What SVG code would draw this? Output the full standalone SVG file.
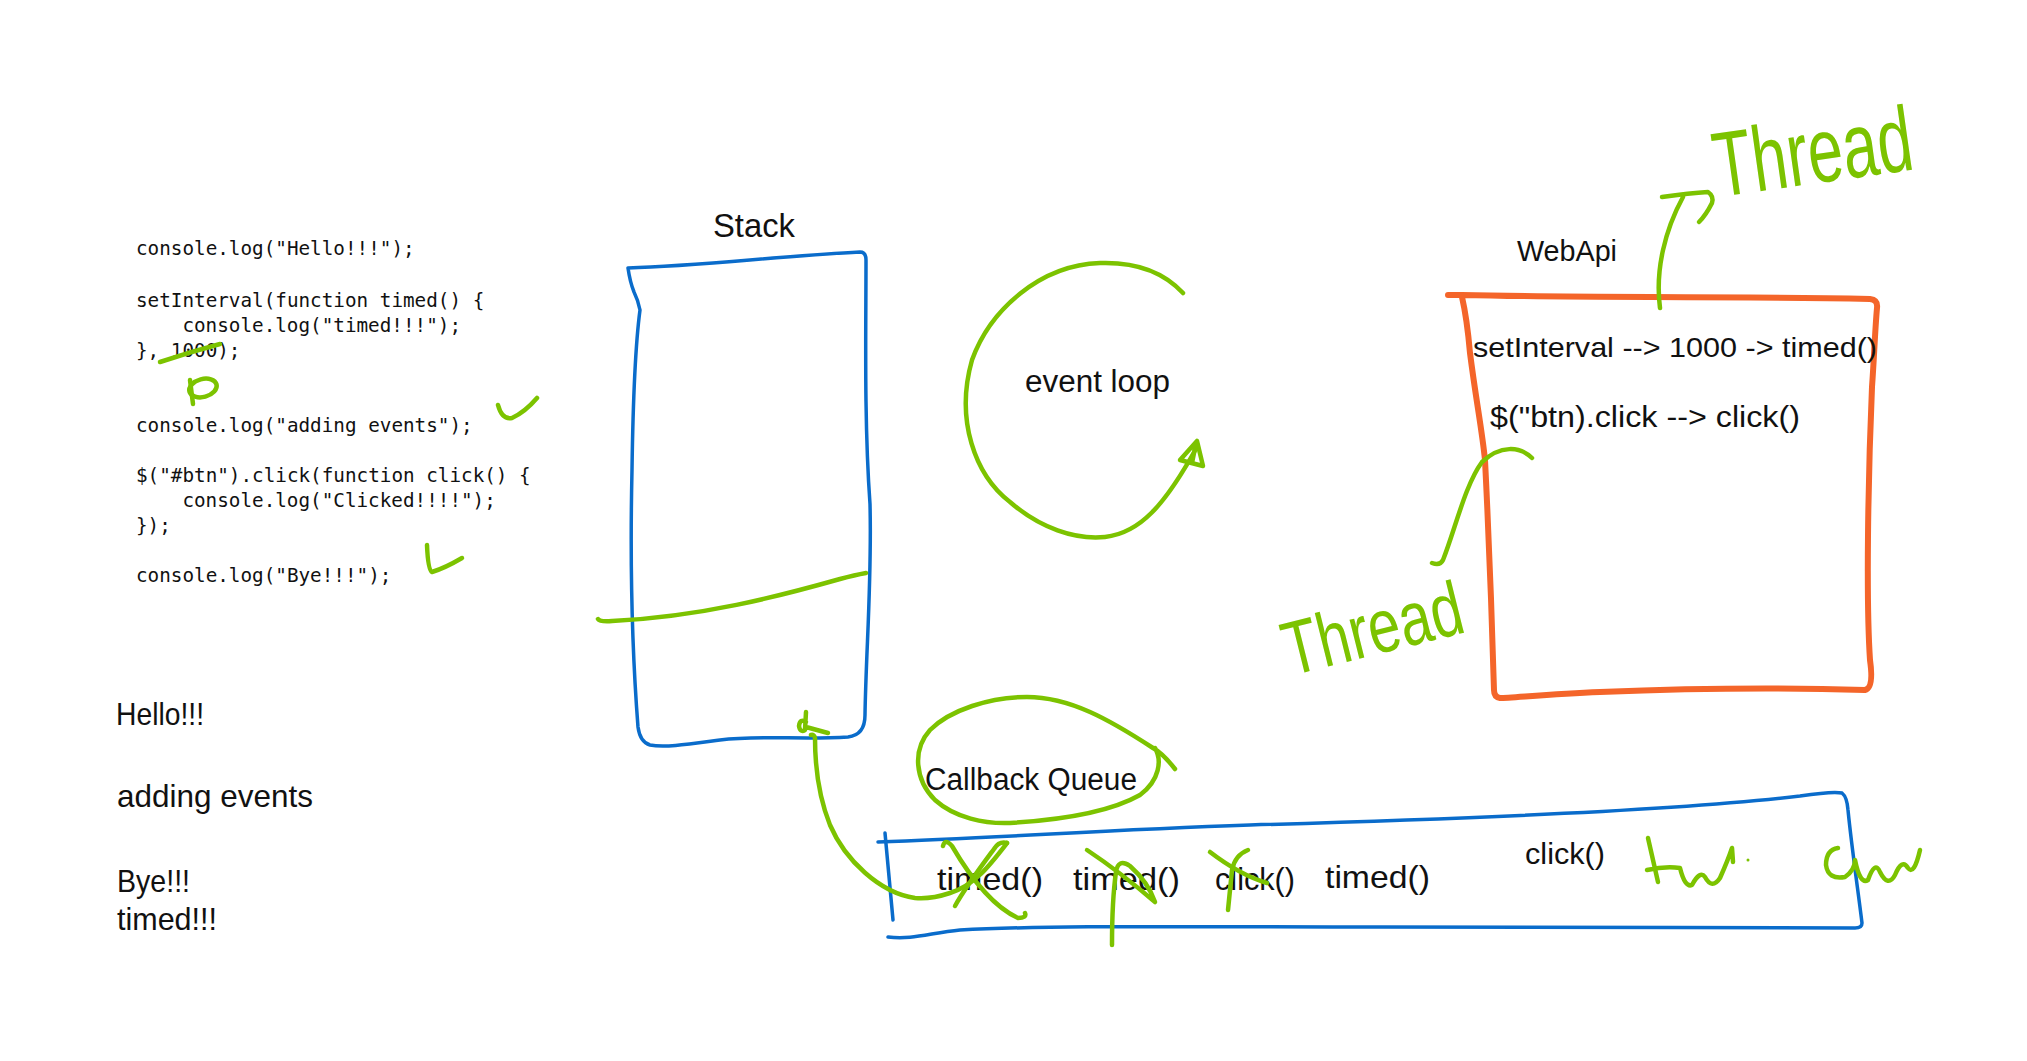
<svg xmlns="http://www.w3.org/2000/svg" width="2027" height="1061" viewBox="0 0 2027 1061">
<style>
.code{font-family:"DejaVu Sans Mono","Liberation Mono",monospace;font-size:19.3px;fill:#111}
.hand{font-family:"Liberation Sans",Arial,sans-serif;fill:#111}
.blue{fill:none;stroke:#0a6ccb;stroke-width:3.5;stroke-linecap:round;stroke-linejoin:round}
.orange{fill:none;stroke:#f4652a;stroke-width:6;stroke-linecap:round;stroke-linejoin:round}
.green{fill:none;stroke:#7cc300;stroke-width:4.5;stroke-linecap:round;stroke-linejoin:round}
.gtext{font-family:"Liberation Sans",Arial,sans-serif;fill:#7cc300}
</style>
<rect width="2027" height="1061" fill="#fff"/>

<g id="code">
<text class="code" x="136" y="255">console.log("Hello!!!");</text>
<text class="code" x="136" y="307">setInterval(function timed() {</text>
<text class="code" x="182.4" y="332">console.log("timed!!!");</text>
<text class="code" x="136" y="357">}, 1000);</text>
<text class="code" x="136" y="432">console.log("adding events");</text>
<text class="code" x="136" y="482">$("#btn").click(function click() {</text>
<text class="code" x="182.4" y="507">console.log("Clicked!!!!");</text>
<text class="code" x="136" y="532">});</text>
<text class="code" x="136" y="582">console.log("Bye!!!");</text>
</g>

<g id="code-marks">
<path class="green" d="M160,362 Q190,352 220,344"/>
<ellipse class="green" cx="203" cy="388" rx="14" ry="9" stroke-width="5" transform="rotate(-15 203 388)"/>
<path class="green" d="M190,380 L193,404"/>
<path class="green" d="M498,405 Q502,420 512,418 Q525,412 537,398"/>
<path class="green" d="M427,545 Q428,570 432,572 Q445,568 462,558"/>
</g>

<g id="console-output">
<text class="hand" x="116" y="725" font-size="32" textLength="88" lengthAdjust="spacingAndGlyphs">Hello!!!</text>
<text class="hand" x="117" y="807" font-size="32" textLength="196" lengthAdjust="spacingAndGlyphs">adding events</text>
<text class="hand" x="117" y="892" font-size="32" textLength="73" lengthAdjust="spacingAndGlyphs">Bye!!!</text>
<text class="hand" x="117" y="930" font-size="32" textLength="100" lengthAdjust="spacingAndGlyphs">timed!!!</text>
</g>

<g id="stack">
<text class="hand" x="713" y="237" font-size="33" textLength="82" lengthAdjust="spacingAndGlyphs">Stack</text>
<path class="blue" d="M628,268 C700,266 780,256 860,252 Q866,252 866,260 C866,330 864,420 870,504 C872,580 866,650 865,715 Q865,735 848,737 C800,740 760,735 720,740 C690,744 665,748 650,745 Q640,742 638,727 C632,650 630,560 632,470 C633,400 636,340 640,310 Q638,300 634,292 Q630,282 628,268"/>
<path class="green" d="M598,619 Q600,622 612,621 C700,617 780,596 840,579 Q855,575 866,573"/>
</g>

<g id="event-loop">
<text class="hand" x="1025" y="392" font-size="31" textLength="145" lengthAdjust="spacingAndGlyphs">event loop</text>
<path class="green" d="M1183,293 C1160,268 1130,262 1100,263 C1040,265 990,310 972,360 C955,420 975,475 1010,502 C1040,528 1075,540 1105,537 C1140,533 1165,505 1197,447"/>
<path class="green" d="M1180,460 L1197,441 L1203,466 Z M1196,443 L1192,463" stroke-width="5" fill="#7cc300" fill-opacity="0.35"/>
</g>

<g id="webapi">
<text class="hand" x="1517" y="261" font-size="30" textLength="100" lengthAdjust="spacingAndGlyphs">WebApi</text>
<path class="orange" d="M1448,295 L1462,295 C1580,298 1700,296 1870,299 Q1878,300 1877,308 C1875,330 1874,360 1872,387 C1868,480 1866,600 1870,660 Q1874,688 1865,690 C1800,688 1700,688 1600,692 C1550,694 1510,698 1500,698 Q1494,697 1494,690 C1492,620 1488,520 1485,460 C1482,430 1476,400 1470,353 C1468,330 1465,310 1462,297"/>
<text class="hand" x="1473" y="357" font-size="28" textLength="404" lengthAdjust="spacingAndGlyphs">setInterval --&gt; 1000 -&gt; timed()</text>
<text class="hand" x="1490" y="427" font-size="30" textLength="310" lengthAdjust="spacingAndGlyphs">$("btn).click --&gt; click()</text>
</g>

<g id="threads">
<path class="green" d="M1660,308 C1655,270 1665,230 1683,197" stroke-width="4"/>
<path class="green" d="M1662,197 Q1690,193 1708,192 Q1714,196 1712,203 Q1706,215 1699,222" stroke-width="4"/>
<text class="gtext" x="1718" y="197" font-size="92" textLength="200" lengthAdjust="spacingAndGlyphs" transform="rotate(-8 1718 197)">Thread</text>
<path class="green" d="M1532,458 C1520,446 1500,445 1482,462 C1465,485 1455,530 1443,560 Q1440,566 1432,563" stroke-width="3.5"/>
<text class="gtext" x="1290" y="676" font-size="76" textLength="183" lengthAdjust="spacingAndGlyphs" transform="rotate(-14 1290 676)">Thread</text>
</g>

<g id="callback-queue">
<path class="green" d="M1175,769 C1168,760 1162,753 1153,748 C1110,720 1070,697 1027,697 C990,697 950,710 930,730 C912,750 915,780 935,800 C955,818 985,824 1010,823 C1060,820 1110,812 1140,795 C1160,780 1162,760 1155,748"/>
<text class="hand" x="925" y="790" font-size="31" textLength="212" lengthAdjust="spacingAndGlyphs">Callback Queue</text>
<path class="blue" stroke-width="3" d="M878,842 C1000,838 1100,830 1250,825 C1500,818 1700,808 1800,796 Q1833,791 1842,793 Q1847,797 1848,810 C1852,850 1858,890 1862,923 Q1862,928 1855,928 C1700,928 1500,926 1380,927 C1200,927 1050,925 960,930 C930,933 912,940 888,937"/>
<path class="blue" stroke-width="3" d="M885,833 L893,920"/>
<text class="hand" x="937" y="890" font-size="32" textLength="106" lengthAdjust="spacingAndGlyphs">timed()</text>
<text class="hand" x="1073" y="890" font-size="32" textLength="107" lengthAdjust="spacingAndGlyphs">timed()</text>
<text class="hand" x="1215" y="890" font-size="32" textLength="80" lengthAdjust="spacingAndGlyphs">click()</text>
<text class="hand" x="1325" y="888" font-size="32" textLength="105" lengthAdjust="spacingAndGlyphs">timed()</text>
<text class="hand" x="1525" y="864" font-size="30" textLength="80" lengthAdjust="spacingAndGlyphs">click()</text>
</g>

<g id="queue-marks">
<path class="green" stroke-width="4" d="M943,846 Q945,838 952,846 C966,870 990,905 1018,918 Q1027,918 1025,913"/>
<path class="green" stroke-width="4" d="M1007,843 Q999,841 994,849 C980,868 965,888 955,906"/>
<path class="green" stroke-width="4" d="M1087,850 Q1120,872 1155,902 Q1148,882 1130,866 Q1118,858 1116,872 Q1112,900 1112,945"/>
<path class="green" stroke-width="4" d="M1210,852 Q1240,875 1267,883"/>
<path class="green" stroke-width="4" d="M1248,850 Q1235,855 1232,870 L1228,910"/>
<path class="green" stroke-width="4" d="M1648,838 L1658,882 M1647,870 Q1665,866 1680,868 Q1685,888 1692,885 Q1700,870 1705,877 Q1712,890 1720,878 Q1728,860 1732,848 L1733,862"/>
<circle cx="1748" cy="860" r="1.5" fill="#7cc300"/>
<path class="green" stroke-width="4" d="M1838,848 Q1826,850 1826,865 Q1828,880 1845,877 Q1855,870 1855,860 Q1860,885 1868,880 Q1875,860 1880,872 Q1888,888 1895,875 Q1902,858 1908,868 Q1914,876 1920,850"/>
</g>

<g id="connectors">
<path class="green" stroke-width="5.5" d="M1007,843 C990,865 975,885 950,893 C935,898 925,899 915,898 C880,893 845,860 830,825 C818,795 815,765 815,738 Q814,734 811,735"/>
<path class="green" stroke-width="4" d="M806,712 L805,730 Q800,733 799,726 Q800,718 806,722 M806,727 L828,733"/>
</g>
</svg>
